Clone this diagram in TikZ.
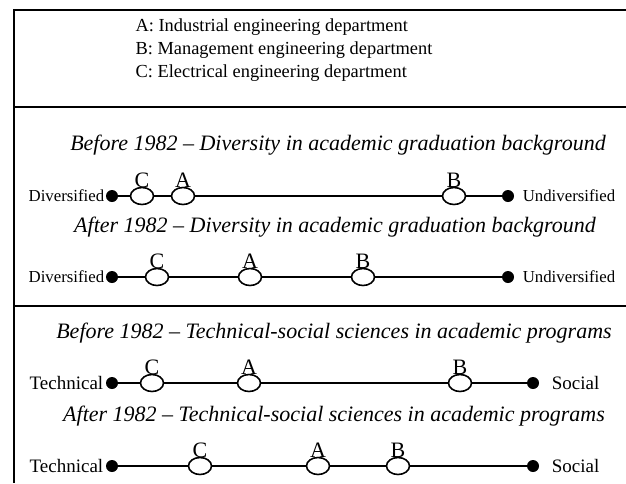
\documentclass[tikz,border=0pt]{standalone}
\usepackage{fontspec}
\setmainfont{Liberation Serif}
\usetikzlibrary{positioning,shapes.geometric}

\begin{document}
\begin{tikzpicture}[
    x=0.5pt, y=-0.5pt,
    frame/.style={line width=1pt},
    legend/.style={align=left, inner sep=0pt, font=\fontsize{9.2}{11.3}\selectfont},
    caption/.style={inner sep=0pt, font=\fontsize{11}{13}\selectfont\itshape},
    endpt/.style={circle, fill=black, minimum size=6pt, inner sep=0pt},
    dept/.style={ellipse, draw, line width=0.8pt, fill=white, minimum width=11.5pt, minimum height=8.5pt, inner sep=0pt},
    letter/.style={anchor=base, inner sep=0pt, yshift=-0.3pt, font=\fontsize{11}{13}\selectfont},
    poleA/.style={inner sep=0pt, font=\fontsize{8.4}{10}\selectfont},
    poleB/.style={inner sep=0pt, font=\fontsize{9.5}{11}\selectfont},
    axis/.style={line width=0.8pt}
]
    \useasboundingbox (0,0) rectangle (626,483);

    % Frame
    \draw [frame] (626,10) -- (14,10) -- (14,483);
    \draw [frame] (14,107) -- (626,107);
    \draw [frame] (14,306) -- (626,306);

    % Legend
    \node [legend] (key) at (284,50) {A: Industrial engineering department\\B: Management engineering department\\C: Electrical engineering department};

    % Diversity in academic graduation background
    \node [caption] (t1) at (338,145) {Before 1982 -- Diversity in academic graduation background};
    \node [endpt] (l1) at (112,196) {};
    \node [dept] (c1) at (142,196) {};
    \node [dept] (a1) at (183,196) {};
    \node [dept] (b1) at (454,196) {};
    \node [endpt] (r1) at (508,196) {};
    \node [poleA, left=0.5pt of l1] (pl1) {Diversified};
    \node [poleA, right=4pt of r1] (pr1) {Undiversified};

    \node [caption] (t2) at (335,227) {After 1982 -- Diversity in academic graduation background};
    \node [endpt] (l2) at (112,277) {};
    \node [dept] (c2) at (157,277) {};
    \node [dept] (a2) at (250,277) {};
    \node [dept] (b2) at (363,277) {};
    \node [endpt] (r2) at (508,277) {};
    \node [poleA, left=0.5pt of l2] (pl2) {Diversified};
    \node [poleA, right=4pt of r2] (pr2) {Undiversified};

    % Technical-social sciences in academic programs
    \node [caption] (t3) at (334,333) {Before 1982 -- Technical-social sciences in academic programs};
    \node [endpt] (l3) at (112,383) {};
    \node [dept] (c3) at (152,383) {};
    \node [dept] (a3) at (249,383) {};
    \node [dept] (b3) at (460,383) {};
    \node [endpt] (r3) at (533,383) {};
    \node [poleB, left=1pt of l3] (pl3) {Technical};
    \node [poleB, right=6pt of r3] (pr3) {Social};

    \node [caption] (t4) at (334,416) {After 1982 -- Technical-social sciences in academic programs};
    \node [endpt] (l4) at (112,466) {};
    \node [dept] (c4) at (200,466) {};
    \node [dept] (a4) at (318,466) {};
    \node [dept] (b4) at (398,466) {};
    \node [endpt] (r4) at (533,466) {};
    \node [poleB, left=1pt of l4] (pl4) {Technical};
    \node [poleB, right=6pt of r4] (pr4) {Social};

    % Letters
    \node [letter] (lc1) at (c1.north) {C};
    \node [letter] (la1) at (a1.north) {A};
    \node [letter] (lb1) at (b1.north) {B};
    \node [letter] (lc2) at (c2.north) {C};
    \node [letter] (la2) at (a2.north) {A};
    \node [letter] (lb2) at (b2.north) {B};
    \node [letter] (lc3) at (c3.north) {C};
    \node [letter] (la3) at (a3.north) {A};
    \node [letter] (lb3) at (b3.north) {B};
    \node [letter] (lc4) at (c4.north) {C};
    \node [letter] (la4) at (a4.north) {A};
    \node [letter] (lb4) at (b4.north) {B};

    % Axes
    \draw [axis] (l1) -- (c1) -- (a1) -- (b1) -- (r1);
    \draw [axis] (l2) -- (c2) -- (a2) -- (b2) -- (r2);
    \draw [axis] (l3) -- (c3) -- (a3) -- (b3) -- (r3);
    \draw [axis] (l4) -- (c4) -- (a4) -- (b4) -- (r4);
\end{tikzpicture}
\end{document}
